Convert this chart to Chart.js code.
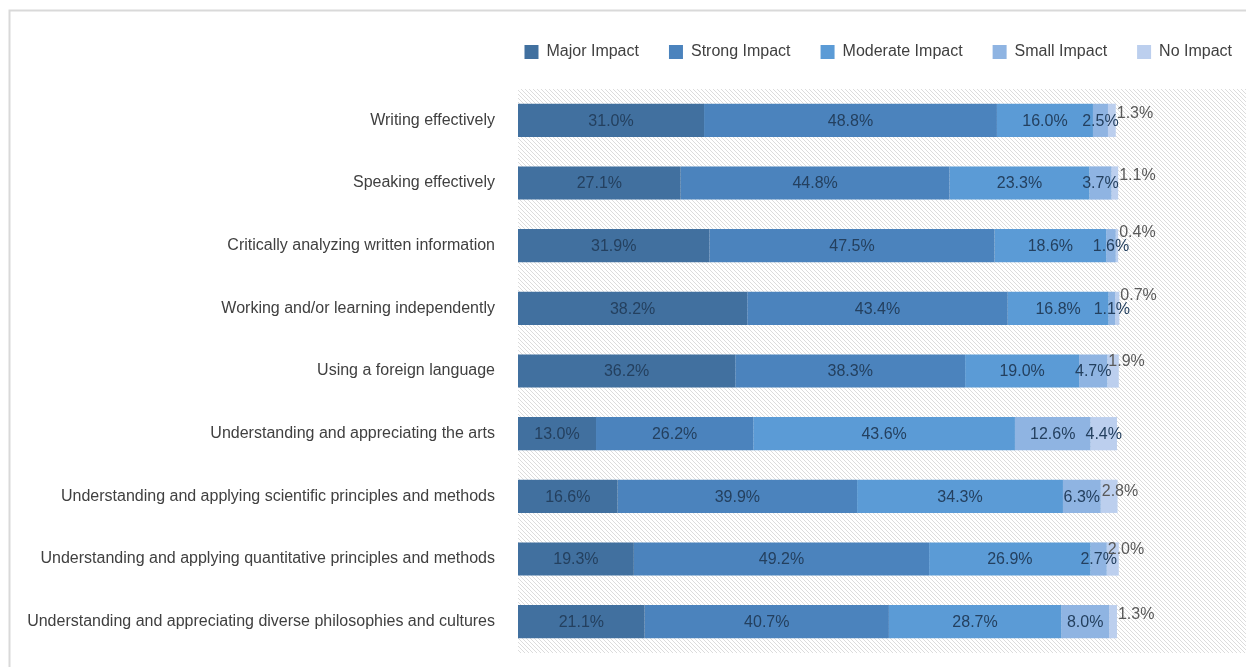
<!DOCTYPE html>
<html><head><meta charset="utf-8">
<script src="https://cdn.jsdelivr.net/npm/chart.js@4.4.0/dist/chart.umd.min.js"></script>
<style>html,body{margin:0;padding:0;background:#fff;overflow:hidden}#wrap{position:relative;width:1246px;height:667px}</style>
</head><body><div id="wrap"><canvas id="c" width="1246" height="667"></canvas></div>
<script>
const categories = [
  "Writing effectively",
  "Speaking effectively",
  "Critically analyzing written information",
  "Working and/or learning independently",
  "Using a foreign language",
  "Understanding and appreciating the arts",
  "Understanding and applying scientific principles and methods",
  "Understanding and applying quantitative principles and methods",
  "Understanding and appreciating diverse philosophies and cultures"
];
const seriesNames = ["Major Impact", "Strong Impact", "Moderate Impact", "Small Impact", "No Impact"];
const majorImpact    = [31.0, 27.1, 31.9, 38.2, 36.2, 13.0, 16.6, 19.3, 21.1];
const strongImpact   = [48.8, 44.8, 47.5, 43.4, 38.3, 26.2, 39.9, 49.2, 40.7];
const moderateImpact = [16.0, 23.3, 18.6, 16.8, 19.0, 43.6, 34.3, 26.9, 28.7];
const smallImpact    = [2.5, 3.7, 1.6, 1.1, 4.7, 12.6, 6.3, 2.7, 8.0];
const noImpact       = [1.3, 1.1, 0.4, 0.7, 1.9, 4.4, 2.8, 2.0, 1.3];
const seriesColors = ["#41709f", "#4b83bd", "#5b9bd6", "#8fb4e2", "#bccfee"];

const FONT = "'Liberation Sans', Arial, sans-serif";

function makePattern(ctx) {
  const s = 4;
  const c = document.createElement('canvas');
  c.width = s; c.height = s;
  const g = c.getContext('2d');
  g.fillStyle = '#ffffff';
  g.fillRect(0, 0, s, s);
  g.strokeStyle = '#dcdcdc';
  g.lineWidth = 1;
  g.beginPath();
  g.moveTo(0, 0); g.lineTo(s, s);
  g.moveTo(-1, s - 1); g.lineTo(1, s + 1);
  g.moveTo(s - 1, -1); g.lineTo(s + 1, 1);
  g.stroke();
  return ctx.createPattern(c, 'repeat');
}

const backgroundPlugin = {
  id: 'bgFrame',
  beforeDraw(chart) {
    const ctx = chart.ctx;
    const a = chart.chartArea;
    ctx.save();
    ctx.fillStyle = '#ffffff';
    ctx.fillRect(0, 0, chart.width, chart.height);
    ctx.strokeStyle = '#d9d9d9';
    ctx.lineWidth = 2;
    ctx.beginPath();
    ctx.moveTo(9.5, chart.height);
    ctx.lineTo(9.5, 10.5);
    ctx.lineTo(chart.width, 10.5);
    ctx.stroke();
    ctx.fillStyle = makePattern(ctx);
    ctx.fillRect(a.left, a.top, a.right - a.left, a.bottom - a.top);
    ctx.restore();
  }
};

const legendShiftPlugin = {
  id: 'legendShift',
  afterLayout(chart) {
    const lg = chart.legend;
    if (lg) {
      lg.left += 16;
      lg.right += 16;
      const dy = 52 - (lg.top + lg.options.labels.padding + 8);
      lg.top += dy;
      lg.bottom += dy;
    }
  }
};

const labelPlugin = {
  id: 'barLabels',
  afterDatasetsDraw(chart) {
    const ctx = chart.ctx;
    ctx.save();
    ctx.font = '16px ' + FONT;
    ctx.textBaseline = 'middle';
    chart.data.datasets.forEach((ds, di) => {
      const meta = chart.getDatasetMeta(di);
      meta.data.forEach((el, i) => {
        const v = ds.data[i];
        const txt = v.toFixed(1) + '%';
        const start = Math.min(el.x, el.base);
        const end = Math.max(el.x, el.base);
        if (di === 4 && v < 4) {
          ctx.fillStyle = '#595959';
          ctx.textAlign = 'left';
          let x, dy;
          if (v < 1) { x = end + 1; dy = -13; }
          else if (v < 1.9) { x = end + 1; dy = -7; }
          else { x = start + 1; dy = v < 2.5 ? -9 : -5; }
          ctx.fillText(txt, x, el.y + dy);
        } else {
          ctx.fillStyle = '#24405f';
          ctx.textAlign = 'center';
          ctx.fillText(txt, (start + end) / 2, el.y + 1);
        }
      });
    });
    ctx.restore();
  }
};

const seriesData = [majorImpact, strongImpact, moderateImpact, smallImpact, noImpact];

new Chart(document.getElementById('c'), {
  type: 'bar',
  data: {
    labels: categories,
    datasets: seriesNames.map((n, k) => ({
      label: n,
      data: seriesData[k],
      backgroundColor: seriesColors[k],
      borderWidth: 0,
      categoryPercentage: 0.53,
      barPercentage: 1.0
    }))
  },
  options: {
    indexAxis: 'y',
    responsive: false,
    animation: false,
    devicePixelRatio: 1,
    layout: { padding: { top: 14, left: 10, right: 0, bottom: 12 } },
    scales: {
      x: { stacked: true, min: 0, max: 121.3, display: false },
      y: {
        stacked: true,
        grid: { display: false, drawTicks: false },
        border: { display: false },
        ticks: { color: '#404040', font: { size: 16, family: FONT }, padding: 23 },
        afterFit(scale) {
          scale.width = 508;
          scale.paddingTop = 89;
          scale.paddingBottom = 14;
        }
      }
    },
    plugins: {
      legend: {
        position: 'top',
        align: 'end',
        labels: {
          boxWidth: 14,
          boxHeight: 14,
          padding: 30,
          color: '#404040',
          font: { size: 16, family: FONT }
        }
      },
      tooltip: { enabled: false }
    }
  },
  plugins: [backgroundPlugin, legendShiftPlugin, labelPlugin]
});
</script>
</body></html>
